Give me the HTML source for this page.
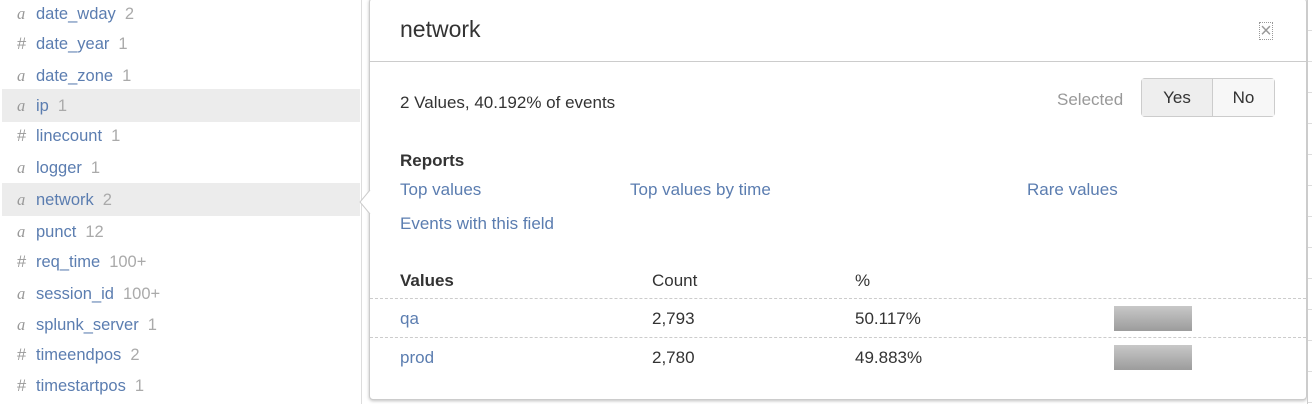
<!DOCTYPE html>
<html><head><meta charset="utf-8"><style>
*{box-sizing:border-box;margin:0;padding:0}
body{width:1312px;height:404px;overflow:hidden;background:#fff;font-family:"Liberation Sans",sans-serif;position:relative}
.fl{position:absolute;left:0;top:0;width:362px;height:404px;border-right:1px solid #ddd}
.row{position:absolute;left:2px;width:358px;height:33px;font-size:16.5px;line-height:33px;color:#5b7db0;padding-left:15px}
.row.hl{background:#ececec}
.row i{font-style:italic;font-family:"Liberation Serif",serif;color:#999;display:inline-block;width:19px}
.row b{font-weight:normal;color:#999;display:inline-block;width:19px}
.row span.c{color:#aaa;margin-left:9px}
.pop{position:absolute;left:369px;top:-2px;width:938px;height:402px;border:1px solid #ccc;border-radius:4px;background:#fff;box-shadow:0 1px 3px rgba(0,0,0,.25)}
.t{position:absolute;font-size:17px;color:#333}
.lk{position:absolute;font-size:17px;color:#5b7db0}
.strip{position:absolute;left:1307px;top:0;width:5px;height:404px;background:repeating-linear-gradient(#fff 0,#fff 30px,#ddd 30px,#ddd 31px);border-left:1px solid #ccc}
</style></head><body>
<div class="fl">
<div class="row" style="top:-3px"><i>a</i>date_wday<span class="c">2</span></div>
<div class="row" style="top:28px"><b>#</b>date_year<span class="c">1</span></div>
<div class="row" style="top:59px"><i>a</i>date_zone<span class="c">1</span></div>
<div class="row hl" style="top:89px"><i>a</i>ip<span class="c">1</span></div>
<div class="row" style="top:120px"><b>#</b>linecount<span class="c">1</span></div>
<div class="row" style="top:151px"><i>a</i>logger<span class="c">1</span></div>
<div class="row hl" style="top:183px"><i>a</i>network<span class="c">2</span></div>
<div class="row" style="top:215px"><i>a</i>punct<span class="c">12</span></div>
<div class="row" style="top:246px"><b>#</b>req_time<span class="c">100+</span></div>
<div class="row" style="top:277px"><i>a</i>session_id<span class="c">100+</span></div>
<div class="row" style="top:308px"><i>a</i>splunk_server<span class="c">1</span></div>
<div class="row" style="top:339px"><b>#</b>timeendpos<span class="c">2</span></div>
<div class="row" style="top:370px"><b>#</b>timestartpos<span class="c">1</span></div>
</div>
<div class="pop"></div>
<svg style="position:absolute;left:358px;top:190px" width="14" height="24"><path d="M12,0 L2,12 L12,24" fill="#fff" stroke="#ccc"/></svg>
<div class="t" style="left:400px;top:16px;font-size:23px">network</div>
<div style="position:absolute;left:1259px;top:22px;font-size:20px;color:#999;border:1px dotted #999;width:14px;height:18px;line-height:16px;text-align:center">×</div>
<div style="position:absolute;left:370px;top:61px;width:936px;height:1px;background:#ccc"></div>
<div class="t" style="left:400px;top:93px">2 Values, 40.192% of events</div>
<div class="t" style="left:1057px;top:90px;color:#999">Selected</div>
<div style="position:absolute;left:1141px;top:78px;width:134px;height:39px;border:1px solid #ccc;border-radius:4px;background:#f3f3f3;display:flex;font-size:17px;color:#333;line-height:37px">
<div style="width:71px;text-align:center;border-right:1px solid #ccc;background:#eee">Yes</div>
<div style="flex:1;text-align:center;background:#f7f7f7">No</div></div>
<div class="t" style="left:400px;top:151px;font-weight:bold">Reports</div>
<div class="lk" style="left:400px;top:180px">Top values</div>
<div class="lk" style="left:630px;top:180px">Top values by time</div>
<div class="lk" style="left:1027px;top:180px">Rare values</div>
<div class="lk" style="left:400px;top:214px">Events with this field</div>
<div class="t" style="left:400px;top:271px;font-weight:bold">Values</div>
<div class="t" style="left:652px;top:271px">Count</div>
<div class="t" style="left:855px;top:271px">%</div>
<div id="tbl"></div>
<div class="strip"></div>
<script>
const labels=["qa","prod"];
const counts=["2,793","2,780"];
const pcts=[50.117,49.883];
const tbl=document.getElementById('tbl');
const maxP=Math.max(...pcts);
labels.forEach((l,i)=>{
 const y=298+i*39;
 const d=document.createElement('div');
 
 
 d.style.cssText=`position:absolute;left:370px;top:${y}px;width:936px;border-top:1px dashed #ccc`;
 tbl.appendChild(d);
 const a=document.createElement('div');a.className='lk';a.textContent=l;
 
 
 a.style.cssText=`left:400px;top:${y+11}px`;tbl.appendChild(a);
 const c=document.createElement('div');c.className='t';c.textContent=counts[i];
 
 
 c.style.cssText=`left:652px;top:${y+11}px`;tbl.appendChild(c);
 const p=document.createElement('div');p.className='t';p.textContent=pcts[i].toFixed(3)+'%';
 
 
 p.style.cssText=`left:855px;top:${y+11}px`;tbl.appendChild(p);
 const b=document.createElement('div');
 
 
 b.style.cssText=`position:absolute;left:1114px;top:${y+8}px;height:25px;width:${pcts[i]/maxP*78}px;background:linear-gradient(#c8c8c8,#9c9c9c)`;
 tbl.appendChild(b);
});
</script>
</body></html>
